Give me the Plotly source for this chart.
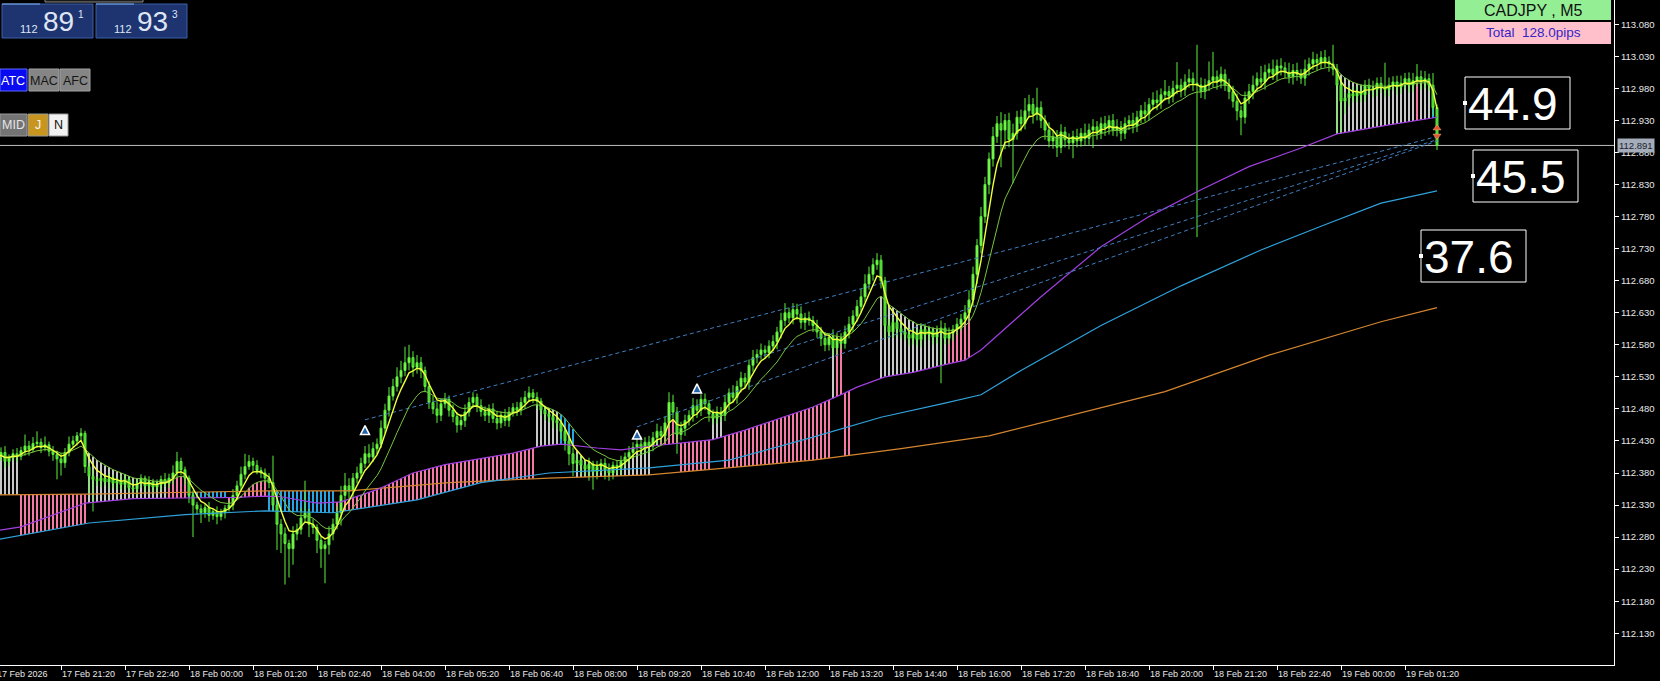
import numpy as np
import plotly.graph_objects as go

# ---------------- data (prices stored as thousandths above 112.000) ----------------
BASE = 112.0
OPEN0 = 400

close_pts = [
    405,412,398,404,410,406,415,422,417,426,428,420,424,414,409,402,396,412,425,430,
    438,442,390,375,370,368,372,366,371,364,368,362,370,357,355,364,372,360,366,358,
    362,370,364,372,380,398,385,372,345,330,324,318,326,314,320,312,318,325,330,345,
    360,378,390,398,392,384,380,372,365,330,300,285,270,262,285,292,310,318,300,295,
    275,262,268,285,300,318,345,360,352,372,380,395,410,405,418,425,450,478,500,515,
    530,540,552,560,545,552,540,515,490,480,470,488,495,478,468,455,462,475,490,498,
    485,476,470,480,465,458,470,462,475,482,478,490,498,505,498,492,478,472,468,462,
    458,445,430,410,395,400,392,386,394,382,390,395,385,380,392,388,398,405,412,420,
    425,418,428,422,435,445,438,458,490,475,440,450,462,470,485,478,495,488,472,465,
    475,470,490,505,498,515,528,522,548,560,565,572,568,578,585,600,618,630,622,635,
    628,615,622,618,610,600,590,580,592,575,590,582,600,612,625,640,655,675,690,705,
    712,680,610,600,615,605,600,596,590,598,588,604,596,602,592,600,606,590,598,604,
    612,620,630,650,690,735,780,830,870,905,925,915,930,900,910,935,925,945,955,940,
    950,930,915,898,905,888,912,900,895,905,898,910,902,915,920,910,925,918,930,915,
    920,910,925,930,922,935,945,940,955,962,958,970,975,968,980,985,978,990,995,988,
    985,975,985,992,998,990,1002,985,975,960,945,935,965,975,985,995,990,1005,1010,1002,
    1015,1012,1005,998,1008,1002,996,1010,1018,1025,1020,1028,1022,1018,1010,985,960,965,972,968,
    975,970,985,980,978,988,982,978,985,990,982,988,995,985,992,998,990,995,985,950,
    891,
]

wick_up = [
    6,8,10,5,7,9,6,18,8,10,17,6,13,5,8,6,9,7,12,8,
    6,8,4,6,10,5,7,4,8,6,5,9,7,5,10,8,6,4,9,5,
    8,6,10,7,12,15,6,5,4,8,5,7,6,9,5,8,6,5,7,10,
    8,12,20,10,6,8,5,7,8,42,6,8,10,6,12,9,15,50,6,8,
    5,7,6,12,9,10,15,20,12,8,10,9,12,15,10,9,12,10,14,12,
    15,15,25,20,10,12,9,6,8,10,12,8,10,6,9,7,10,12,8,8,
    6,10,8,7,9,12,6,10,8,7,9,8,10,10,6,8,5,7,9,6,
    8,6,5,7,10,9,6,8,10,5,9,7,8,10,6,8,9,7,10,8,
    9,12,8,10,9,12,8,10,16,12,8,10,9,8,12,10,8,9,6,7,
    9,8,10,7,12,9,10,8,9,12,8,10,7,9,10,8,12,15,8,10,
    9,12,8,10,7,9,8,10,6,12,9,8,10,12,9,10,12,15,12,10,
    11,8,6,10,8,7,9,6,10,8,7,10,9,8,6,10,12,8,9,7,
    10,8,12,15,12,10,15,12,10,15,12,18,10,12,15,10,12,20,15,10,
    31,10,8,12,9,10,12,8,10,9,12,8,15,10,12,9,10,12,8,10,
    12,9,10,8,12,10,9,14,10,12,15,10,18,9,12,36,10,12,15,10,
    60,12,10,30,39,10,12,8,10,9,12,8,10,12,15,10,20,12,9,15,
    10,12,9,15,10,12,8,15,10,12,9,10,12,8,30,8,10,9,12,10,
    9,12,8,10,12,9,10,38,12,9,10,12,9,10,12,20,10,12,8,19,
    5,
]

wick_dn = [
    8,6,10,7,5,9,6,8,10,5,7,9,6,8,10,32,20,8,6,5,
    7,6,10,27,50,8,10,6,12,8,10,7,9,6,8,10,7,9,6,8,
    7,9,6,8,10,6,8,10,12,50,9,16,8,10,7,12,6,9,5,8,
    6,7,8,5,9,6,8,7,9,10,40,30,64,45,25,10,8,6,20,10,
    20,30,54,15,10,8,20,9,12,10,8,9,7,10,8,9,6,8,10,7,
    8,10,9,12,15,10,12,9,10,8,12,9,7,10,9,12,8,10,7,9,
    10,8,9,12,7,10,8,9,10,7,9,8,10,7,9,12,8,10,9,12,
    10,12,15,18,20,12,15,10,18,28,12,10,15,12,10,9,12,8,10,9,
    8,10,9,12,8,10,12,9,8,10,30,9,12,8,10,12,9,10,12,10,
    8,10,9,12,8,10,9,8,12,10,9,8,10,9,8,12,10,9,8,10,
    9,10,12,8,10,9,12,10,9,12,10,9,8,10,12,9,10,8,9,10,
    8,12,20,10,9,12,10,9,12,10,9,12,10,9,12,10,80,9,10,12,
    9,10,8,12,10,15,12,10,15,12,10,58,30,12,68,10,12,9,10,15,
    10,12,15,10,12,15,9,12,10,24,10,9,12,10,28,10,9,12,10,9,
    10,12,9,10,12,10,9,12,10,9,12,10,9,12,10,9,12,10,9,12,
    237,10,12,9,10,12,10,9,12,10,15,28,10,9,12,10,9,12,10,9,
    10,12,9,10,12,10,9,12,10,9,12,10,9,12,10,75,50,20,12,10,
    9,12,10,9,12,10,9,12,10,9,12,10,9,12,10,9,12,10,9,12,
    7,
]

# slow moving averages (bar index -> price thousandths)
purple_bar = [0,6,22,34,47,60,67,71,80,86,95,104,112,121,129,136,141,150,156,162,
              171,179,187,196,204,212,215,222,229,237,242,246,251,261,276,288,301,313,326,335,348,360]
purple_pts = [290,296,333,340,341,342,344,343,333,335,354,380,393,403,411,422,425,419,416,421,
              427,432,447,466,483,505,514,530,537,549,556,572,600,655,733,780,822,858,887,909,923,935]
blue_bar = [0,23,47,67,84,105,121,138,163,183,204,221,237,246,256,276,296,316,331,346,360]
blue_pts = [276,302,315,321,318,338,365,380,388,400,436,467,489,502,540,610,672,728,765,801,820]
orange_bar = [0,23,48,68,88,113,138,163,204,226,248,292,318,346,360]
orange_pts = [346,347,350,352,352,365,372,377,400,418,438,507,564,616,638]

# histogram state segments: (colour, first bar, last bar, line A, line B)
hist_segments = [
    ("grey", 0, 5, "green", "orange"), ("pink", 6, 22, "orange", "blue"),
    ("grey", 23, 42, "green", "purple"), ("pink", 43, 47, "green", "purple"),
    ("blue", 48, 57, "orange", "purple"), ("pink", 58, 67, "green", "purple"),
    ("blue", 68, 84, "orange", "blue"), ("pink", 85, 88, "purple", "blue"),
    ("pink", 89, 134, "purple", "low"), ("grey", 135, 140, "green", "purple"),
    ("blue", 141, 144, "green", "purple"), ("grey", 145, 163, "yellow", "orange"),
    ("grey", 164, 165, "yellow", "purple"), ("pink", 166, 170, "yellow", "purple"),
    ("pink", 171, 178, "purple", "orange"), ("grey", 179, 181, "yellow", "purple"),
    ("pink", 182, 208, "purple", "orange"), ("grey", 209, 209, "green", "purple"),
    ("pink", 210, 211, "green", "purple"), ("pink", 212, 213, "purple", "orange"),
    ("grey", 221, 237, "green", "purple"), ("pink", 238, 243, "yellow", "purple"),
    ("grey", 335, 354, "green", "purple"), ("pink", 355, 355, "green", "purple"),
    ("grey", 356, 358, "green", "purple"), ("blue", 359, 359, "yellow", "purple"),
]

signal_bar = [92, 160, 175]
signal_pts = [454, 447, 519]
trend_start_bar = [92, 160, 175]
trend_start_pts = [463, 452, 530]
trend_end_bar = [360, 360, 360]
trend_end_pts = [905, 898, 900]

current_price = 112.891
tick_bars = [16*k for k in range(1, 23)]
tick_labels = ["17 Feb 21:20", "17 Feb 22:40", "18 Feb 00:00", "18 Feb 01:20", "18 Feb 02:40",
               "18 Feb 04:00", "18 Feb 05:20", "18 Feb 06:40", "18 Feb 08:00", "18 Feb 09:20",
               "18 Feb 10:40", "18 Feb 12:00", "18 Feb 13:20", "18 Feb 14:40", "18 Feb 16:00",
               "18 Feb 17:20", "18 Feb 18:40", "18 Feb 20:00", "18 Feb 21:20", "18 Feb 22:40",
               "19 Feb 00:00", "19 Feb 01:20"]
first_label = "17 Feb 2026"
y_tick_labels = ["112.130", "112.180", "112.230", "112.280", "112.330", "112.380", "112.430",
                 "112.480", "112.530", "112.580", "112.630", "112.680", "112.730", "112.780",
                 "112.830", "112.880", "112.930", "112.980", "113.030", "113.080"]

# ---------------- build ----------------
n = len(close_pts)
assert n == 361 and len(wick_up) == n and len(wick_dn) == n
P = lambda a: BASE + np.asarray(a, dtype=float) / 1000.0
bars = np.arange(n)
close = P(close_pts)
open_ = np.concatenate([[BASE + OPEN0 / 1000.0], close[:-1]])   # FX bars open at previous close
high = np.maximum(open_, close) + np.asarray(wick_up) / 1000.0
low = np.minimum(open_, close) - np.asarray(wick_dn) / 1000.0


def ema(x, span):
    a = 2.0 / (span + 1)
    out = np.empty_like(x)
    out[0] = x[0]
    for i in range(1, len(x)):
        out[i] = a * x[i] + (1 - a) * out[i - 1]
    return out


yellow = ema(close, 5)
green = ema(close, 13)
lines = {
    "yellow": yellow, "green": green,
    "purple": np.interp(bars, purple_bar, P(purple_pts)),
    "blue": np.interp(bars, blue_bar, P(blue_pts)),
    "orange": np.interp(bars, orange_bar, P(orange_pts)),
}
lines["low"] = np.minimum(lines["orange"], lines["blue"])

HIST_COL = {"pink": "#f47aa5", "grey": "#c8c8c8", "blue": "#27a4e6"}
fig = go.Figure()
for cname, col in HIST_COL.items():
    xs, bs, hs = [], [], []
    for c, a, b, la, lb in hist_segments:
        if c != cname:
            continue
        for i in range(a, b + 1):
            v1, v2 = lines[la][i], lines[lb][i]
            xs.append(i); bs.append(min(v1, v2)); hs.append(abs(v1 - v2))
    fig.add_trace(go.Bar(x=xs, y=hs, base=bs, width=0.5, marker=dict(color=col, line=dict(width=0)),
                         hoverinfo="skip"))

fig.add_trace(go.Scatter(x=orange_bar, y=P(orange_pts), mode="lines", line=dict(color="#d4862f", width=1.2)))
fig.add_trace(go.Scatter(x=blue_bar, y=P(blue_pts), mode="lines", line=dict(color="#2fa2dc", width=1.2)))
fig.add_trace(go.Scatter(x=purple_bar, y=P(purple_pts), mode="lines", line=dict(color="#a13fe0", width=1.2)))

for k in range(len(trend_start_bar)):
    fig.add_trace(go.Scatter(x=[trend_start_bar[k], trend_end_bar[k]],
                             y=[P(trend_start_pts[k]), P(trend_end_pts[k])], mode="lines",
                             line=dict(color="#3f7fbf", width=1, dash="4px,3px")))

fig.add_trace(go.Candlestick(
    x=bars, open=open_, high=high, low=low, close=close, whiskerwidth=0,
    increasing=dict(line=dict(color="#5cf03a", width=1), fillcolor="#8dff5e"),
    decreasing=dict(line=dict(color="#5cf03a", width=1), fillcolor="#47c830"),
    hoverinfo="skip"))

fig.add_trace(go.Scatter(x=bars, y=green, mode="lines", line=dict(color="#76c43c", width=1)))
fig.add_trace(go.Scatter(x=bars, y=yellow, mode="lines", line=dict(color="#f0ff3a", width=1.4)))

fig.add_trace(go.Scatter(x=signal_bar, y=P(signal_pts), mode="markers",
                         marker=dict(symbol="arrow-up", size=9, color="#2463a8",
                                     line=dict(color="white", width=1.5))))
fig.add_trace(go.Scatter(x=[n - 1, n - 1], y=[112.918, 112.906], mode="markers",
                         marker=dict(symbol=["triangle-up", "triangle-down"], size=7, color="#dc5a2e",
                                     line=dict(color="#ffb080", width=0.5))))

# ---------------- layout helpers (pixel -> paper) ----------------
PW, PH = 1614.0, 665.0
px = lambda x: x / PW
py = lambda y: 1 - y / PH
shapes, annots = [], []


def rect(x0, y0, x1, y1, fill, line=None, lw=1, layer="above"):
    shapes.append(dict(type="rect", xref="paper", yref="paper", x0=px(x0), x1=px(x1), y0=py(y1), y1=py(y0),
                       fillcolor=fill, line=dict(color=line or fill, width=lw if line else 0), layer=layer))


def text(x, y, s, size, color, xa="center", ya="middle", fam="Liberation Sans, Arial"):
    annots.append(dict(xref="paper", yref="paper", x=px(x), y=py(y), xanchor=xa, yanchor=ya, text=s,
                       showarrow=False, font=dict(size=size, color=color, family=fam)))


shapes.append(dict(type="line", xref="paper", yref="y", x0=0, x1=1, y0=current_price, y1=current_price,
                   line=dict(color="#bdbdbd", width=1), layer="below"))

# top-left quote panels
rect(45, -2, 143, 2, "#1a1a1a", "#8a8a8a")
for x0, big, sup in [(2, "89", "1"), (96, "93", "3")]:
    rect(x0, 4, x0 + 91, 38, "#1d3470", "#3c5ea8")
    shapes.append(dict(type="line", xref="paper", yref="paper", x0=px(x0), x1=px(x0 + 38), y0=py(4), y1=py(4),
                       line=dict(color="#7fb0ee", width=1)))
    text(x0 + 27, 29, "112", 11, "#dfe6f3")
    text(x0 + 56, 22, big, 28, "#dfe6f3")
    text(x0 + 79, 15, sup, 10, "#dfe6f3")

# buttons
for x0, x1, s, bg, fg in [(0, 27, "ATC", "#0a0af0", "#ffffff"), (29, 59, "MAC", "#858585", "#161616"),
                          (60, 90, "AFC", "#858585", "#161616")]:
    rect(x0, 69, x1, 91, bg, "#a0a0a0" if s != "ATC" else "#5a6aff")
    text((x0 + x1) / 2, 80.5, s, 12.5, fg)
for x0, x1, s, bg, fg in [(0, 27, "MID", "#747474", "#e6e6e6"), (28, 48, "J", "#c8961e", "#f4f4f4"),
                          (49, 68, "N", "#f2f2f2", "#111111")]:
    rect(x0, 114, x1, 136, bg, "#9a9a9a")
    text((x0 + x1) / 2, 125, s, 12.5, fg)

# top-right info boxes
rect(1455, 0, 1611, 20, "#94ee94")
text(1533, 10.5, "CADJPY , M5", 16, "#111111")
rect(1455, 22, 1611, 44, "#ffc0cb")
text(1533, 33, "Total&nbsp;&nbsp;128.0pips", 13.5, "#3525c8")

# value boxes
for x0, y0, s in [(1465, 77, "44.9"), (1473, 150, "45.5"), (1421, 230, "37.6")]:
    rect(x0, y0, x0 + 105, y0 + 52, "rgba(0,0,0,0)", "#ffffff", 1)
    rect(x0 - 2, y0 + 24, x0 + 2, y0 + 28, "#ffffff")
    text(x0 + 1, y0 + 27, s, 46, "#ffffff", xa="left")

# cut-off first date label and current price tag
text(-5, 674, first_label, 9, "#e8e8e8", xa="left", fam="Liberation Sans")
annots.append(dict(xref="paper", yref="y", x=1 + 3 / PW, y=current_price, xanchor="left", yanchor="middle",
                   text="112.891", showarrow=False, bgcolor="#a4adb9", borderpad=1,
                   font=dict(size=9.5, color="#1a2230", family="Liberation Sans")))

fig.update_layout(
    width=1660, height=681, margin=dict(l=0, r=46, t=0, b=16),
    paper_bgcolor="black", plot_bgcolor="black", showlegend=False, barmode="overlay",
    hovermode=False, shapes=shapes, annotations=annots,
    xaxis=dict(range=[0.75, 404.25], showgrid=False, zeroline=False, showline=True, linecolor="#ffffff",
               linewidth=1, ticks="outside", ticklen=4, tickcolor="#ffffff", tickvals=tick_bars,
               ticktext=tick_labels, ticklabelposition="outside right", tickangle=0,
               tickfont=dict(size=9, color="#e8e8e8", family="Liberation Sans"),
               rangeslider=dict(visible=False), fixedrange=True),
    yaxis=dict(range=[112.0805, 113.1179], side="right", showgrid=False, zeroline=False, showline=True,
               linecolor="#ffffff", linewidth=1, ticks="outside", ticklen=4, tickcolor="#ffffff",
               tickvals=[float(t) for t in y_tick_labels], ticktext=y_tick_labels,
               tickfont=dict(size=9.5, color="#e8e8e8", family="Liberation Sans"), fixedrange=True),
)

fig.write_html("out.html", config={"displayModeBar": False},
               post_script="document.body.style.margin='0';document.body.style.overflow='hidden';")
